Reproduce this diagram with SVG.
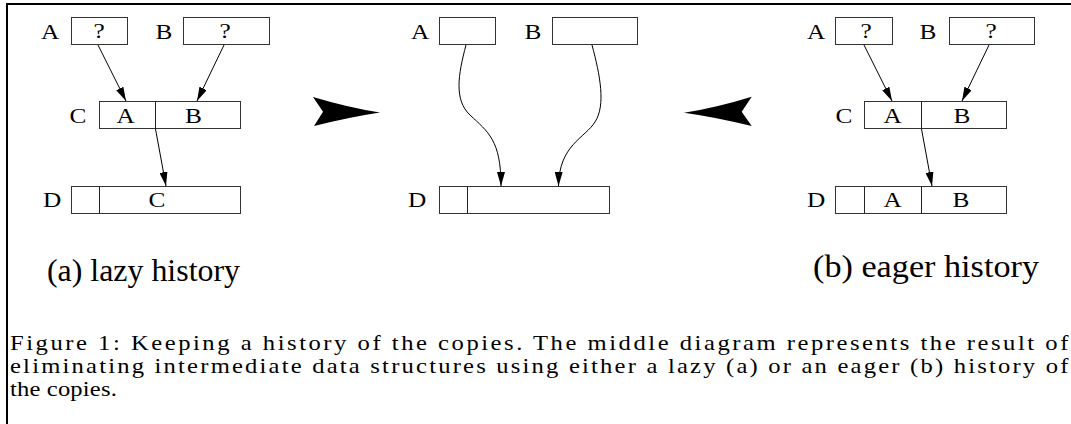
<svg xmlns="http://www.w3.org/2000/svg" width="1071" height="424" viewBox="0 0 1071 424">
<defs>
<style>
.box{fill:#fff;stroke:#333;stroke-width:1}
.div{stroke:#222;stroke-width:1}
.lbl{font-family:"Liberation Serif","Times New Roman",serif;font-size:22px;fill:#000;text-anchor:middle}
.big{font-family:"Liberation Serif","Times New Roman",serif;font-size:32px;fill:#000}
.cap{font-family:"Liberation Serif","Times New Roman",serif;font-size:20.5px;fill:#000}
.conn{fill:none;stroke:#000;stroke-width:1;marker-end:url(#ah)}
</style>
<marker id="ah" markerUnits="userSpaceOnUse" markerWidth="14" markerHeight="8" refX="14" refY="4" orient="auto">
<path d="M0,0 L14,4 L0,8 Z" fill="#000"/>
</marker>
</defs>
<rect width="1071" height="424" fill="#fff"/>
<g id="frame" stroke="#000" stroke-width="2">
<line x1="6" y1="4" x2="1071" y2="4"/>
<line x1="7" y1="3" x2="7" y2="424"/>
</g>

<!-- (a) lazy -->
<g id="a-A"><text class="lbl" transform="matrix(1.15,0,0,1,50,39)">A</text><rect class="box" x="71.5" y="17.5" width="56" height="27"/><text class="lbl" transform="matrix(1.15,0,0,1,99,38)">?</text></g>
<g id="a-B"><text class="lbl" transform="matrix(1.15,0,0,1,164,39)">B</text><rect class="box" x="183.5" y="17.5" width="86" height="27"/><text class="lbl" transform="matrix(1.15,0,0,1,225,38)">?</text></g>
<g id="a-C"><text class="lbl" transform="matrix(1.15,0,0,1,78,123)">C</text><rect class="box" x="99.5" y="101.5" width="141" height="27"/><line class="div" x1="155.5" y1="101.5" x2="155.5" y2="128.5"/><text class="lbl" transform="matrix(1.15,0,0,1,125.5,123)">A</text><text class="lbl" transform="matrix(1.15,0,0,1,193.5,123)">B</text></g>
<g id="a-D"><text class="lbl" transform="matrix(1.15,0,0,1,52,207)">D</text><rect class="box" x="71.5" y="186.5" width="169" height="27"/><line class="div" x1="99.5" y1="186.5" x2="99.5" y2="213.5"/><text class="lbl" transform="matrix(1.15,0,0,1,157,207)">C</text></g>

<!-- middle -->
<g id="m-A"><text class="lbl" transform="matrix(1.15,0,0,1,420,39)">A</text><rect class="box" x="439.5" y="17.5" width="56" height="27"/></g>
<g id="m-B"><text class="lbl" transform="matrix(1.15,0,0,1,533,39)">B</text><rect class="box" x="552.5" y="17.5" width="85" height="27"/></g>
<g id="m-D"><text class="lbl" transform="matrix(1.15,0,0,1,417,207)">D</text><rect class="box" x="439.5" y="186.5" width="170" height="27"/><line class="div" x1="467.5" y1="186.5" x2="467.5" y2="213.5"/></g>

<!-- (b) eager -->
<g id="b-A"><text class="lbl" transform="matrix(1.15,0,0,1,816,39)">A</text><rect class="box" x="835.5" y="17.5" width="57" height="27"/><text class="lbl" transform="matrix(1.15,0,0,1,866,38)">?</text></g>
<g id="b-B"><text class="lbl" transform="matrix(1.15,0,0,1,928,39)">B</text><rect class="box" x="949.5" y="17.5" width="85" height="27"/><text class="lbl" transform="matrix(1.15,0,0,1,991,38)">?</text></g>
<g id="b-C"><text class="lbl" transform="matrix(1.15,0,0,1,844,123)">C</text><rect class="box" x="864.5" y="101.5" width="142" height="27"/><line class="div" x1="921.5" y1="101.5" x2="921.5" y2="128.5"/><text class="lbl" transform="matrix(1.15,0,0,1,892.5,123)">A</text><text class="lbl" transform="matrix(1.15,0,0,1,962,123)">B</text></g>
<g id="b-D"><text class="lbl" transform="matrix(1.15,0,0,1,816,207)">D</text><rect class="box" x="835.5" y="186.5" width="171" height="27"/><line class="div" x1="864.5" y1="186.5" x2="864.5" y2="213.5"/><line class="div" x1="921.5" y1="186.5" x2="921.5" y2="213.5"/><text class="lbl" transform="matrix(1.15,0,0,1,892.5,207)">A</text><text class="lbl" transform="matrix(1.15,0,0,1,961,207)">B</text></g>

<g id="connectors">
<path class="conn" d="M98,45 L126,101"/>
<path class="conn" d="M224,45 L197,101"/>
<path class="conn" d="M155.5,129 L166,186"/>
<path class="conn" d="M466,45 C458,75 454,100 470,115 C488,132 501,140 501,186"/>
<path class="conn" d="M592,45 C600,75 606,105 595,122 C585,138 559,145 558.5,186"/>
<path class="conn" d="M864,45 L892,101"/>
<path class="conn" d="M989,45 L962,101"/>
<path class="conn" d="M921.5,129 L932,186"/>
</g>

<g id="big-arrows" fill="#000">
<path d="M313,97 Q350,108 380,112.5 Q350,117 314,126 L323,111.7 Z"/>
<path d="M684,112.7 Q715,108 751.7,96.7 L741.7,111.7 L751.7,126 Q715,117 684,112.7 Z"/>
</g>

<text class="big" x="47" y="281" textLength="193" lengthAdjust="spacingAndGlyphs">(a) lazy history</text>
<text class="big" x="813" y="277" textLength="226" lengthAdjust="spacingAndGlyphs">(b) eager history</text>

<g id="caption" transform="translate(10,0) scale(1.2,1)">
<text class="cap" x="0" y="350" textLength="882" lengthAdjust="spacing">Figure 1:  Keeping a history of the copies.  The middle diagram represents the result of</text>
<text class="cap" x="0" y="373" textLength="882" lengthAdjust="spacing">eliminating intermediate data structures using either a lazy (a) or an eager (b) history of</text>
<text class="cap" x="0" y="396" textLength="89" lengthAdjust="spacing">the copies.</text>
</g>
</svg>
